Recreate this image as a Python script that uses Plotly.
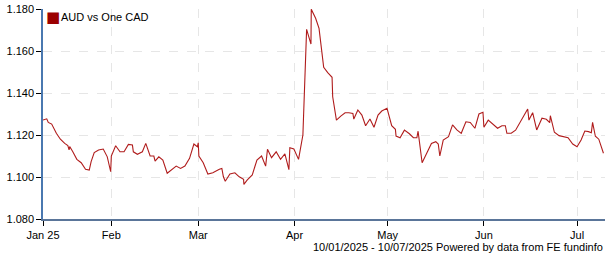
import pandas as pd
import plotly.graph_objects as go

# Day offsets from 10 Jan 2025 and AUD per one CAD
day_offset = [
    0, 1.2, 1.7, 2.8, 4.3, 5.6, 7.0, 8.0, 8.4, 8.6, 9.6, 10.9, 12.3, 13.7, 14.9, 15.5,
    16.5, 17.9, 19.4, 20.7, 21.8, 22.0,
    23.4, 24.8, 26.1, 27.5, 28.8, 29.1, 30.4, 32.0, 33.1, 34.5, 35.7, 36.1, 37.3, 38.6,
    40.0, 41.6, 42.9, 44.3, 45.7, 47.2, 48.6, 49.7, 50.0,
    50.2, 51.6, 53.1, 54.7, 56.8, 57.6, 58.1, 58.7, 60.2, 61.8, 63.2, 64.6, 64.7, 65.8,
    67.4, 68.9, 70.4, 71.7, 72.3, 73.6, 75.1, 76.5, 77.9, 79.2, 79.5, 80.8,
    82.3, 83.7, 84.9, 86.3, 86.4, 87.8, 88.9, 90.4, 91.7, 93.1, 93.3, 94.5, 95.9, 97.3,
    98.5, 99.8, 100.1, 101.4, 102.7, 103.9, 105.3, 106.6, 107.9, 109.1, 110.8,
    112.3, 113.5, 113.7, 115.0, 116.4, 118.0, 119.3, 120.4, 120.8, 122.1, 123.5, 125.1,
    126.5, 127.3, 127.8, 128.9, 130.6, 131.9, 133.3, 134.7, 136.2, 137.6, 139.1, 140.4,
    141.7, 142.0,
    143.4, 144.7, 146.4, 147.8, 148.9, 149.4, 150.8, 152.2, 153.5, 155.0, 156.1, 156.5,
    157.7, 159.0, 160.7, 162.1, 163.2, 163.4, 164.7, 166.2, 167.8, 169.1, 170.6, 172.0,
    173.3, 174.5, 175.7, 176.6, 177.0, 177.9, 179.0, 180.5,
]
aud_per_cad = [
    1.1271, 1.1277, 1.1260, 1.1252, 1.1208, 1.1180, 1.1160, 1.1150, 1.1129, 1.1145,
    1.1120, 1.1084, 1.1068, 1.1037, 1.1033, 1.1073, 1.1116, 1.1129, 1.1133, 1.1096,
    1.1025, 1.1100,
    1.1149, 1.1120, 1.1120, 1.1155, 1.1152, 1.1120, 1.1108, 1.1120, 1.1160, 1.1100,
    1.1100, 1.1076, 1.1096, 1.1081, 1.1018, 1.1037, 1.1052, 1.1041, 1.1052, 1.1089,
    1.1157, 1.1144, 1.1163,
    1.1100, 1.1068, 1.1014, 1.1020, 1.1037, 1.1041, 1.1001, 1.0980, 1.1014, 1.1020,
    1.1001, 1.0989, 1.0965, 1.0986, 1.1010, 1.1081, 1.1100, 1.1052, 1.1132, 1.1092,
    1.1120, 1.1084, 1.1110, 1.1035, 1.1139, 1.1133,
    1.1084, 1.1200, 1.1703, 1.1633, 1.1799, 1.1756, 1.1708, 1.1522, 1.1497, 1.1475,
    1.1382, 1.1271, 1.1290, 1.1306, 1.1306, 1.1303, 1.1276, 1.1319, 1.1295, 1.1244,
    1.1276, 1.1237, 1.1295, 1.1314, 1.1327,
    1.1244, 1.1227, 1.1195, 1.1187, 1.1223, 1.1206, 1.1187, 1.1187, 1.1218, 1.1068,
    1.1113, 1.1160, 1.1168, 1.1157, 1.1100, 1.1176, 1.1192, 1.1248, 1.1224, 1.1208,
    1.1263, 1.1260, 1.1232, 1.1300, 1.1308, 1.1237,
    1.1271, 1.1256, 1.1232, 1.1244, 1.1244, 1.1208, 1.1208, 1.1223, 1.1256, 1.1300,
    1.1324, 1.1271, 1.1306, 1.1224, 1.1280, 1.1275, 1.1259, 1.1292, 1.1213, 1.1197,
    1.1192, 1.1187, 1.1157, 1.1144,
    1.1176, 1.1219, 1.1216, 1.1211, 1.1260, 1.1194, 1.1180, 1.1113,
]

start_date = "2025-01-10"
end_date = "2025-07-10"
tick_dates = ["2025-01-10", "2025-02-01", "2025-03-01", "2025-04-01",
              "2025-05-01", "2025-06-01", "2025-07-01"]
tick_labels = ["Jan 25", "Feb", "Mar", "Apr", "May", "Jun", "Jul"]
y_ticks = [1.08, 1.10, 1.12, 1.14, 1.16, 1.18]
series_name = "AUD vs One CAD"
footer = "10/01/2025 - 10/07/2025 Powered by data from FE fundinfo"

dates = pd.Timestamp(start_date) + pd.to_timedelta(day_offset, unit="D")

FONT = "Liberation Sans, Arial, sans-serif"
LINE_COLOR = "#b01c1c"
KEY_COLOR = "#9b0000"

fig = go.Figure()
fig.add_trace(go.Scatter(
    x=dates, y=aud_per_cad, mode="lines", name=series_name,
    line=dict(color=LINE_COLOR, width=1.1),
    showlegend=False, hoverinfo="x+y",
))

fig.update_layout(
    width=605, height=260,
    margin=dict(l=43, r=0, t=9, b=41),
    paper_bgcolor="white", plot_bgcolor="white",
    font=dict(family=FONT, size=11, color="#000000"),
    showlegend=False,
    xaxis=dict(
        type="date", range=[start_date, end_date],
        tickmode="array", tickvals=tick_dates, ticktext=tick_labels,
        showgrid=True, gridcolor="#e6e6e6", griddash="dash", gridwidth=1,
        showline=True, linecolor="#5a7599", linewidth=1.5,
        ticks="outside", ticklen=5, tickcolor="#000000",
        zeroline=False, fixedrange=True,
    ),
    yaxis=dict(
        range=[1.08, 1.18], tickmode="array", tickvals=y_ticks,
        tickformat=".3f",
        showgrid=True, gridcolor="#e6e6e6", griddash="dash", gridwidth=1,
        showline=True, linecolor="#4a78b0", linewidth=1.5,
        ticks="outside", ticklen=5, tickcolor="#000000",
        zeroline=False, fixedrange=True,
    ),
    annotations=[
        dict(
            text="■", xref="paper", yref="paper", x=0.0, y=1.0,
            xshift=2, yshift=-8, xanchor="left", yanchor="middle",
            showarrow=False, borderpad=0,
            font=dict(family="DejaVu Sans", size=15, color=KEY_COLOR),
        ),
        dict(
            text=series_name, xref="paper", yref="paper", x=0.0, y=1.0,
            xshift=17, yshift=-8, xanchor="left", yanchor="middle",
            showarrow=False, borderpad=0,
            font=dict(family=FONT, size=11, color="#000000"),
        ),
        dict(
            text=footer, xref="paper", yref="paper", x=1.0, y=-0.135,
            xanchor="right", yanchor="middle", showarrow=False,
            font=dict(family=FONT, size=11, color="#000000"),
        ),
    ],
)

fig.write_html("out.html")
